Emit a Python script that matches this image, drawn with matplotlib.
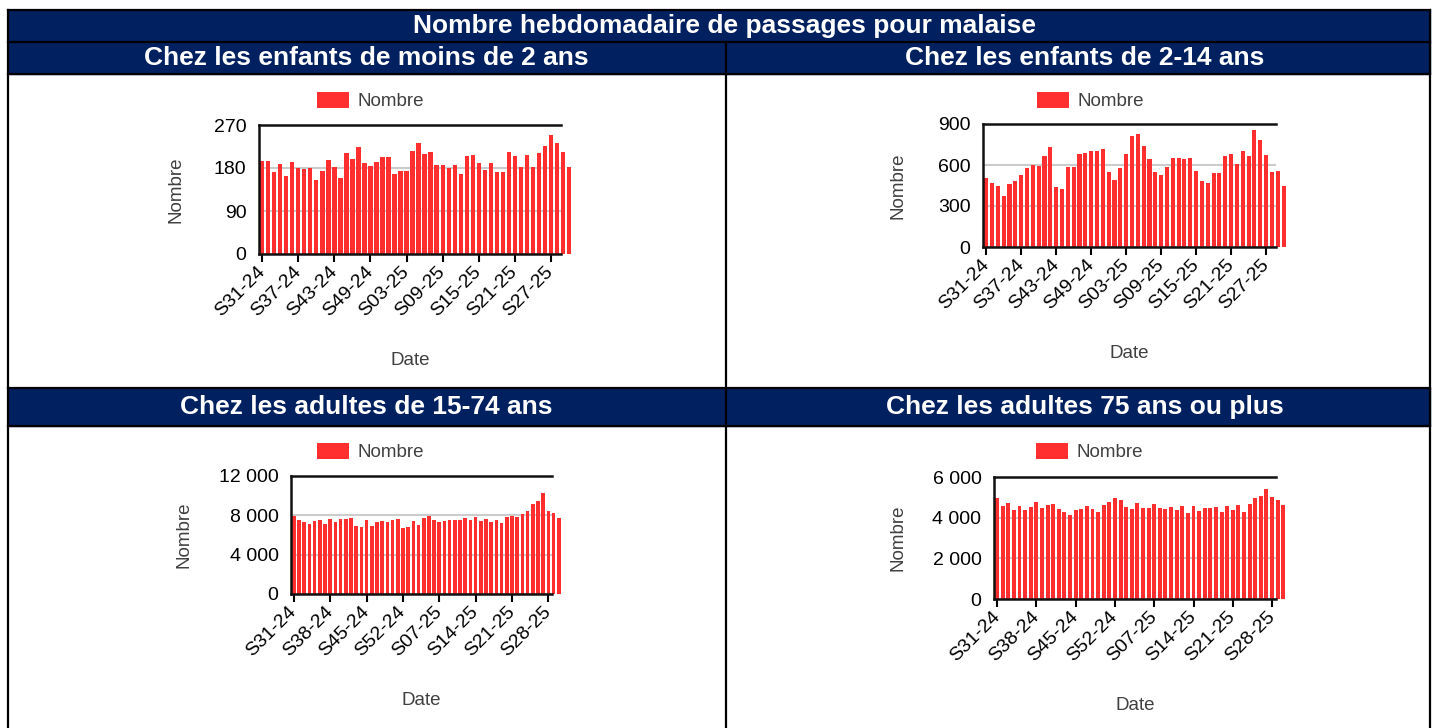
import matplotlib
matplotlib.use('Agg')
import matplotlib.pyplot as plt
from matplotlib.patches import Rectangle
from matplotlib.lines import Line2D

# weekly counts, S31-24 .. S30-25
moins_2_ans = [195, 194, 171, 188, 164, 193, 180, 178, 180, 154,
               174, 197, 182, 160, 211, 199, 223, 191, 185, 192,
               202, 203, 167, 174, 174, 216, 232, 209, 214, 186,
               187, 180, 187, 168, 205, 207, 190, 175, 190, 172,
               171, 213, 205, 183, 207, 183, 211, 227, 249, 232,
               213, 182]
de_2_14_ans = [507, 468, 444, 375, 458, 483, 527, 581, 600, 593,
               664, 730, 439, 426, 583, 588, 681, 689, 701, 703,
               716, 551, 493, 576, 679, 811, 828, 738, 645, 551,
               528, 586, 653, 654, 645, 648, 556, 480, 469, 538,
               538, 664, 682, 610, 706, 665, 853, 783, 676, 548,
               557, 450]
de_15_74_ans = [7950, 7510, 7310, 7070, 7380, 7510, 7110, 7650, 7310, 7610,
                7610, 7720, 6940, 6800, 7480, 6940, 7280, 7410, 7280, 7510,
                7580, 6700, 6800, 7410, 7010, 7720, 7950, 7550, 7310, 7390,
                7475, 7490, 7490, 7680, 7560, 7800, 7375, 7645, 7290, 7545,
                7170, 7865, 7950, 7830, 8115, 8470, 9200, 9455, 10250, 8405,
                8220, 7745]
plus_75_ans = [4970, 4570, 4730, 4400, 4570, 4400, 4520, 4760, 4490, 4600,
               4650, 4450, 4290, 4150, 4360, 4420, 4580, 4440, 4290, 4630,
               4760, 4990, 4860, 4530, 4440, 4710, 4490, 4500, 4650, 4500,
               4430, 4520, 4400, 4575, 4210, 4570, 4310, 4490, 4480, 4530,
               4270, 4570, 4400, 4630, 4290, 4690, 4950, 5050, 5400, 5010,
               4890, 4600]

ticks_6 = ['S31-24', 'S37-24', 'S43-24', 'S49-24', 'S03-25',
           'S09-25', 'S15-25', 'S21-25', 'S27-25']
ticks_7 = ['S31-24', 'S38-24', 'S45-24', 'S52-24', 'S07-25',
           'S14-25', 'S21-25', 'S28-25']

titre = 'Nombre hebdomadaire de passages pour malaise'
panels = [
  ('Chez les enfants de moins de 2 ans', moins_2_ans, [0, 90, 180, 270],
   ['0', '90', '180', '270'], ticks_6, 6),
  ('Chez les enfants de 2-14 ans', de_2_14_ans, [0, 300, 600, 900],
   ['0', '300', '600', '900'], ticks_6, 6),
  ('Chez les adultes de 15-74 ans', de_15_74_ans, [0, 4000, 8000, 12000],
   ['0', '4 000', '8 000', '12 000'], ticks_7, 7),
  ('Chez les adultes 75 ans ou plus', plus_75_ans, [0, 2000, 4000, 6000],
   ['0', '2 000', '4 000', '6 000'], ticks_7, 7),
]

W, H = 1436, 728
NAVY = '#002060'
RED = '#ff2f2f'
GREY = '#404040'

def box(l, t, r, b):
  return [l / W, 1 - b / H, (r - l) / W, (b - t) / H]

fig = plt.figure(figsize=(W / 100, H / 100), dpi=100)

# table headers
for (t, b) in [(10, 42), (42, 74), (388, 426)]:
  fig.patches.append(Rectangle((8 / W, 1 - b / H), 1422 / W, (b - t) / H,
                               transform=fig.transFigure, color=NAVY, zorder=0))
def hline(y, x0=8, x1=1430):
  fig.lines.append(Line2D([x0 / W, x1 / W], [1 - y / H, 1 - y / H],
                          transform=fig.transFigure, color='black', lw=1.6))
def vline(x, y0, y1=728):
  fig.lines.append(Line2D([x / W, x / W], [1 - y0 / H, 1 - y1 / H],
                          transform=fig.transFigure, color='black', lw=1.6))
for y in [10, 42, 74, 388, 426]:
  hline(y)
vline(8, 10)
vline(1430, 10)
vline(726, 42)

hfont = dict(family='Liberation Sans', weight='bold', color='white', size=19)
fig.text(724 / W, 1 - 26 / H, titre, ha='center', va='center', **hfont)
title_pos = [(366, 58), (1085, 58), (366, 407), (1085, 407)]

# frame box, legend left x, legend y, ylabel x
layout = [
  ((259, 125, 561, 254), 317, 101, 184),
  ((983, 124, 1276, 247), 1037, 101, 907),
  ((291, 476, 552, 594), 317, 452, 193),
  ((994, 477, 1276, 599), 1036, 452, 907),
]

for (name, vals, yt, ytl, xtl, step), (frame, lx, ly, ylx), (tx, ty) in zip(panels, layout, title_pos):
  fig.text(tx / W, 1 - ty / H, name, ha='center', va='center', **hfont)
  l, t, r, b = frame
  ax = fig.add_axes(box(l, t, r, b))
  x = list(range(len(vals)))
  bars = ax.bar(x, vals, width=0.7, color=RED, clip_on=False, zorder=2, label='Nombre')
  ax.set_xlim(-0.55, 49.7)
  ax.set_ylim(yt[0], yt[-1])
  ax.set_yticks(yt)
  ax.set_yticklabels(ytl, family='Liberation Sans', fontsize=14)
  ax.set_xticks([k * step for k in range(len(xtl))])
  ax.set_xticklabels(xtl, rotation=45, ha='right', va='center',
                     rotation_mode='anchor', family='Liberation Sans', fontsize=14)
  ax.tick_params(axis='y', length=0, pad=9)
  ax.tick_params(axis='x', length=6, width=1.5, pad=5)
  ax.yaxis.grid(True, color='#cccccc', lw=1.5, zorder=1)
  ax.set_axisbelow(True)
  for s in ['left', 'bottom', 'top']:
    ax.spines[s].set_linewidth(1.8)
    ax.spines[s].set_color('#111111')
  ax.spines['right'].set_visible(False)
  ax.set_ylabel('Nombre', family='Liberation Sans', fontsize=13.5, color=GREY)
  ax.yaxis.set_label_coords((ylx - l) / (r - l), 0.5)
  ax.set_xlabel('Date', family='Liberation Sans', fontsize=13.5, color=GREY)
  ax.xaxis.set_label_coords(0.5, -98 / (b - t))
  ax.legend(handles=[bars], loc='center left', bbox_to_anchor=(lx / W, 1 - ly / H),
            bbox_transform=fig.transFigure, frameon=False, borderpad=0,
            borderaxespad=0, handlelength=1.7, handleheight=0.95,
            handletextpad=0.45, prop={'family': 'Liberation Sans', 'size': 13.5},
            labelcolor=GREY)

fig.savefig('out.png', dpi=100)
